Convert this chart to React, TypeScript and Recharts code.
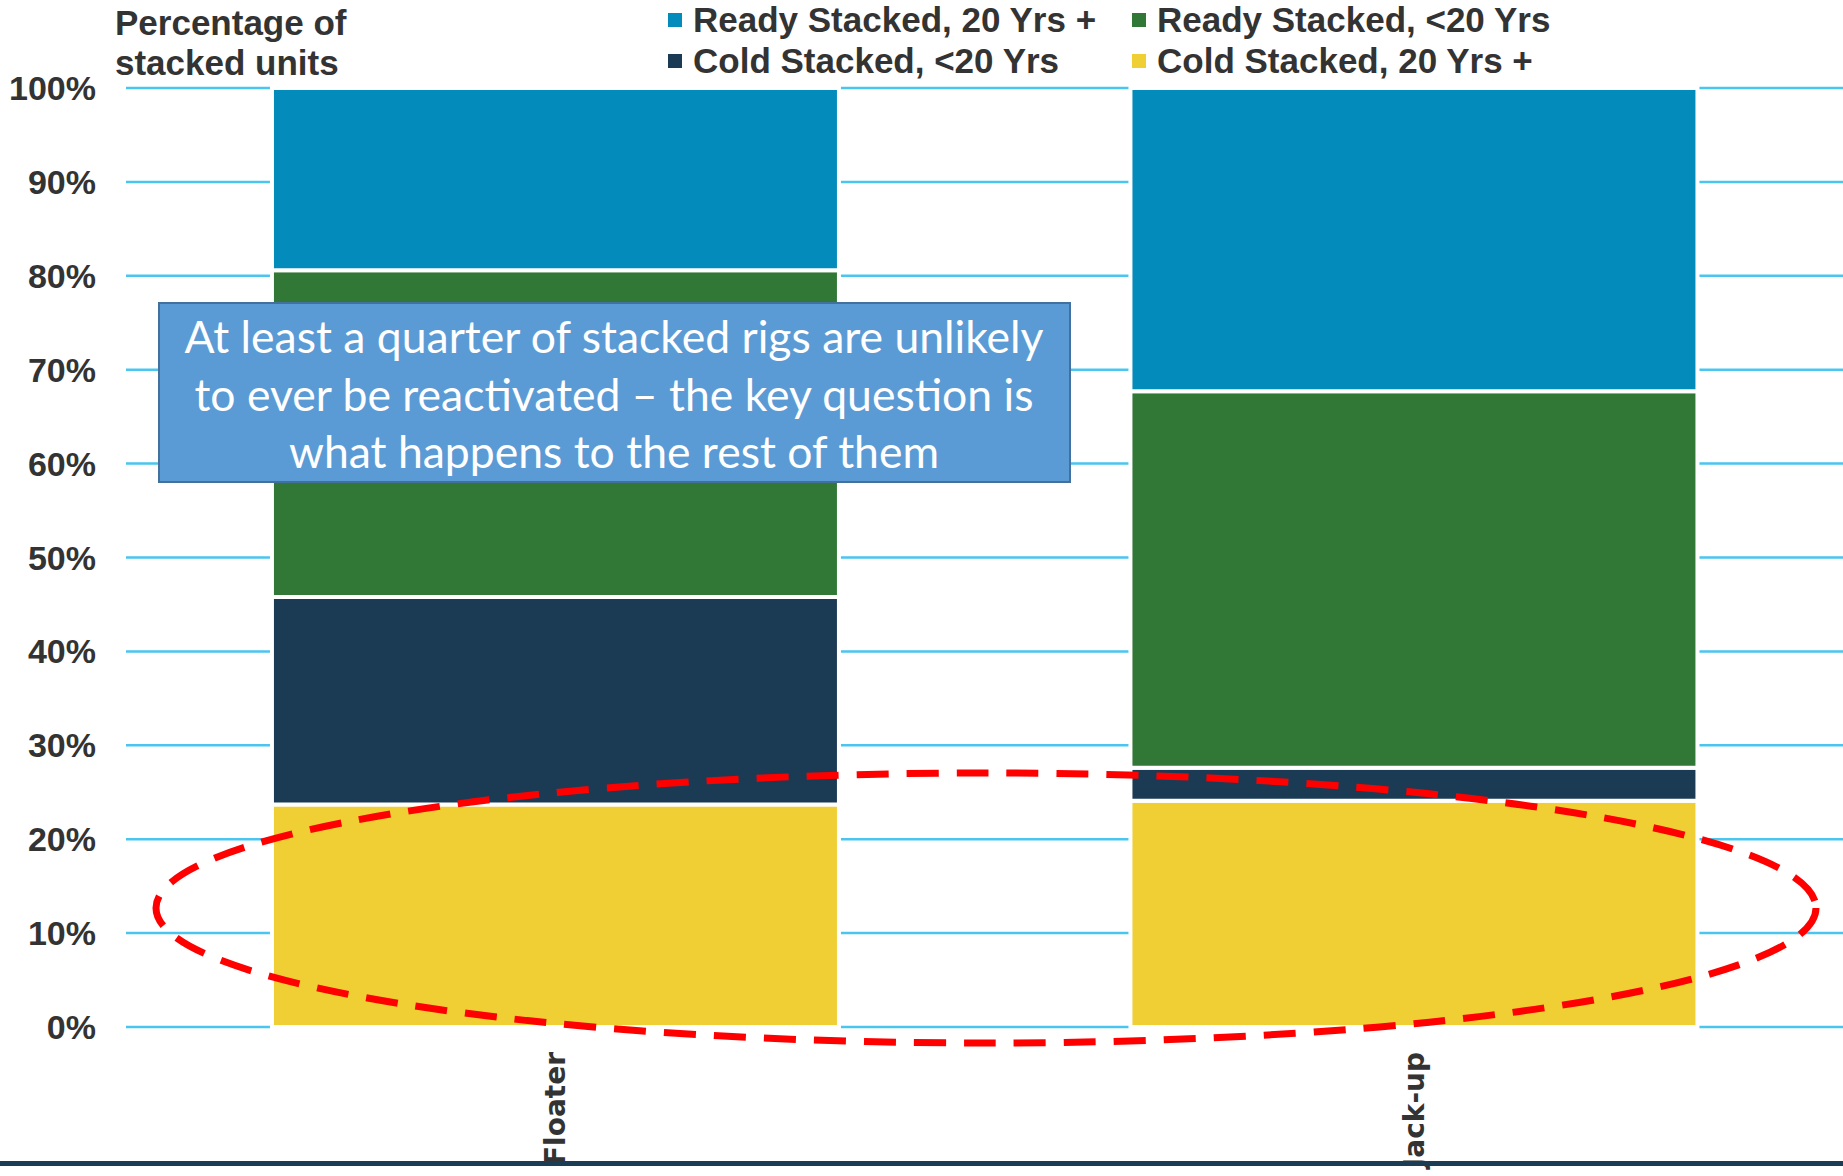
import React from "react";
import { Bar, BarChart, CartesianGrid, XAxis, YAxis } from "recharts";

// categories and stacked shares (%)
const categories = ["Floater", "Jack-up"];
const coldOld = [23.7, 24.1]; // Cold Stacked, 20 Yrs +
const coldYoung = [22.1, 3.5]; // Cold Stacked, <20 Yrs
const readyYoung = [34.8, 40.1]; // Ready Stacked, <20 Yrs
const readyOld = [19.4, 32.3]; // Ready Stacked, 20 Yrs +
const yTicks = [0, 10, 20, 30, 40, 50, 60, 70, 80, 90, 100];

const series = [
  { key: "coldOld", name: "Cold Stacked, 20 Yrs +", color: "#F0CF34", values: coldOld },
  { key: "coldYoung", name: "Cold Stacked, <20 Yrs", color: "#1B3B55", values: coldYoung },
  { key: "readyYoung", name: "Ready Stacked, <20 Yrs", color: "#317735", values: readyYoung },
  { key: "readyOld", name: "Ready Stacked, 20 Yrs +", color: "#038BBB", values: readyOld },
];

const data = categories.map((name, i) => {
  const row: Record<string, string | number> = { name };
  series.forEach((s) => (row[s.key] = s.values[i]));
  return row;
});

// legend layout (2 x 2), same order as the original
const legendRows = [
  ["readyOld", "readyYoung"],
  ["coldYoung", "coldOld"],
];

const W = 1843;
const H = 1176;
const textColor = "#333333";
const boldFont = "'Liberation Sans', Arial, sans-serif";

const CategoryTick = (props: any) => {
  const { x, y, payload } = props;
  return (
    <text
      x={x}
      y={y}
      dy="0.36em"
      transform={`rotate(-90, ${x}, ${y})`}
      textAnchor="end"
      fill={textColor}
      fontFamily="'DejaVu Sans', Verdana, sans-serif"
      fontWeight="bold"
      fontSize={28}
    >
      {payload.value}
    </text>
  );
};

export default function App() {
  return (
    <div
      style={{
        position: "absolute",
        left: 0,
        top: 0,
        width: W,
        height: H,
        background: "#fff",
        overflow: "hidden",
      }}
    >
      <BarChart
        width={W}
        height={H}
        data={data}
        margin={{ top: 88, right: 0, bottom: 29, left: 0 }}
        barCategoryGap="17%"
      >
        <CartesianGrid vertical={false} stroke="#49C5EF" strokeWidth={2.5} />
        <XAxis
          dataKey="name"
          axisLine={false}
          tickLine={false}
          height={120}
          tickMargin={19}
          tick={<CategoryTick />}
          interval={0}
        />
        <YAxis
          domain={[0, 100]}
          ticks={yTicks}
          width={126}
          axisLine={false}
          tickLine={false}
          tickMargin={24}
          tickFormatter={(v) => `${v}%`}
          tick={{ fill: textColor, fontSize: 34, fontWeight: "bold", fontFamily: boldFont }}
        />
        {series.map((s) => (
          <Bar
            key={s.key}
            dataKey={s.key}
            name={s.name}
            stackId="a"
            fill={s.color}
            stroke="#ffffff"
            strokeWidth={4}
            isAnimationActive={false}
          />
        ))}
      </BarChart>

      {/* axis title */}
      <div
        style={{
          position: "absolute",
          left: 115,
          top: 3,
          fontFamily: boldFont,
          fontWeight: "bold",
          fontSize: 35,
          lineHeight: "40px",
          color: textColor,
        }}
      >
        Percentage of
        <br />
        stacked units
      </div>

      {/* legend */}
      {legendRows.map((row, r) =>
        row.map((key, c) => {
          const s = series.find((x) => x.key === key)!;
          return (
            <div
              key={key}
              style={{
                position: "absolute",
                left: c === 0 ? 668 : 1132,
                top: r === 0 ? 0 : 41,
                display: "flex",
                alignItems: "center",
                fontFamily: boldFont,
                fontWeight: "bold",
                fontSize: 35,
                lineHeight: "40px",
                color: textColor,
                whiteSpace: "nowrap",
              }}
            >
              <span style={{ width: 14, height: 14, background: s.color, marginRight: 11 }} />
              {s.name}
            </div>
          );
        })
      )}

      {/* annotation + ellipse */}
      <svg
        width={W}
        height={H}
        style={{ position: "absolute", left: 0, top: 0, pointerEvents: "none" }}
      >
        <rect x={159} y={303} width={911} height={179} fill="#5B9BD5" stroke="#41719C" strokeWidth={2} />
        <g fill="#ffffff" fontFamily="Lato, 'Open Sans', sans-serif" fontSize={44.5} textAnchor="middle">
          <text x={614} y={353}>At least a quarter of stacked rigs are unlikely</text>
          <text x={614} y={411}>to ever be reactivated – the key question is</text>
          <text x={614} y={468}>what happens to the rest of them</text>
        </g>
        <ellipse
          cx={986}
          cy={908}
          rx={830}
          ry={135}
          fill="none"
          stroke="#FF0000"
          strokeWidth={7}
          strokeDasharray="32 18"
        />
        <rect x={0} y={1161} width={W} height={5} fill="#1B3C55" />
      </svg>
    </div>
  );
}
